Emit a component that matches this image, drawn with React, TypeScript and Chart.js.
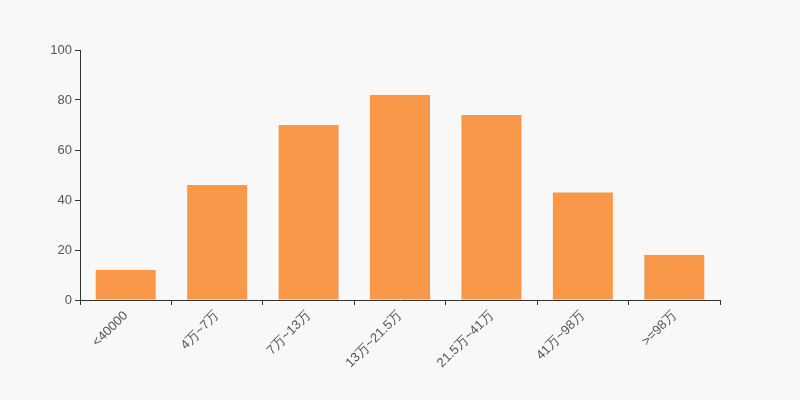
import React, { useEffect, useRef } from "react";
import { Chart, registerables } from "chart.js";

Chart.register(...registerables);

const categories = ["<40000", "4万~7万", "7万~13万", "13万~21.5万", "21.5万~41万", "41万~98万", ">=98万"];
const values = [12, 46, 70, 82, 74, 43, 18];
const yTicks = [0, 20, 40, 60, 80, 100];

export default function App() {
  const ref = useRef<HTMLCanvasElement | null>(null);
  useEffect(() => {
    if (!ref.current) return;
    const chart = new Chart(ref.current, {
      type: "bar",
      data: {
        labels: categories,
        datasets: [
          {
            data: values,
            backgroundColor: "#f89848",
            barPercentage: 0.656,
            categoryPercentage: 1,
          },
        ],
      },
      options: {
        animation: false,
        responsive: false,
        layout: { padding: { left: 0, right: 80, top: 50, bottom: 0 } },
        plugins: { legend: { display: false }, tooltip: { enabled: false } },
        scales: {
          x: {
            grid: { drawOnChartArea: false, offset: true, tickLength: 5, color: "#333" },
            border: { color: "#333", width: 1 },
            ticks: {
              color: "#555",
              font: { family: "'Liberation Sans', Arial, sans-serif", size: 13 },
              maxRotation: 45,
              minRotation: 45,
              autoSkip: false,
              padding: 3,
            },
            afterFit: (s: any) => {
              s.height = 100;
            },
          },
          y: {
            min: 0,
            max: 100,
            afterBuildTicks: (s: any) => {
              s.ticks = yTicks.map((v) => ({ value: v }));
            },
            grid: { drawOnChartArea: false, tickLength: 5, color: "#333" },
            border: { color: "#333", width: 1 },
            ticks: {
              color: "#555",
              font: { family: "'Liberation Sans', Arial, sans-serif", size: 13 },
              padding: 3,
            },
            afterFit: (s: any) => {
              s.width = 80;
            },
          },
        },
      },
    });
    return () => chart.destroy();
  }, []);
  return (
    <div style={{ position: "fixed", left: 0, top: 0, width: 800, height: 400, background: "#f8f8f8" }}>
      <canvas ref={ref} width={800} height={400} style={{ width: 800, height: 400 }} />
    </div>
  );
}
